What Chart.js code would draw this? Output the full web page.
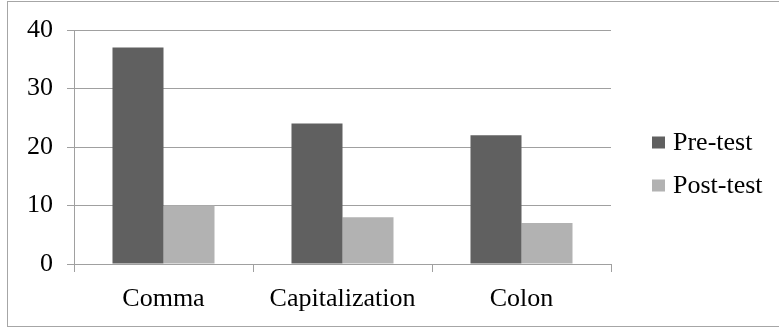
<!DOCTYPE html>
<html>
<head>
<meta charset="utf-8">
<script src="https://cdn.jsdelivr.net/npm/chart.js@4/dist/chart.umd.min.js"></script>
<style>
  html, body { margin: 0; padding: 0; background: #ffffff; }
  #wrap { position: absolute; left: 0; top: 0; width: 779px; height: 328px; }
</style>
</head>
<body>
<div id="wrap"><canvas id="chart" width="779" height="328"></canvas></div>
<script>
// Error counts per punctuation category, before and after instruction
const categories = ['Comma', 'Capitalization', 'Colon'];
const preTest = [37, 24, 22];
const postTest = [10, 8, 7];
const seriesNames = ['Pre-test', 'Post-test'];
const yTicks = [0, 10, 20, 30, 40];

const FONT = "'Liberation Serif', 'Times New Roman', Times, 'DejaVu Serif', serif";
const GRID = '#a0a0a0';
const colors = ['#606060', '#b2b2b2'];

// Frame around the chart and a legend with square swatches on the right
const framePlugin = {
  id: 'frame',
  afterDraw(chart) {
    const ctx = chart.ctx;
    ctx.save();
    ctx.strokeStyle = '#a6a6a6';
    ctx.lineWidth = 1;
    ctx.strokeRect(7.5, 1.5, 800, 325);
    ctx.font = '26px ' + FONT;
    ctx.textBaseline = 'middle';
    ctx.textAlign = 'left';
    chart.data.datasets.forEach((ds, i) => {
      const cy = 142.5 + i * 43;
      ctx.fillStyle = ds.backgroundColor;
      ctx.fillRect(652, cy - 6, 13, 12);
      ctx.fillStyle = '#000000';
      ctx.fillText(ds.label, 673, cy + 1);
    });
    ctx.restore();
  }
};

new Chart(document.getElementById('chart'), {
  type: 'bar',
  data: {
    labels: categories,
    datasets: [
      { label: seriesNames[0], data: preTest, backgroundColor: colors[0] },
      { label: seriesNames[1], data: postTest, backgroundColor: colors[1] }
    ]
  },
  options: {
    responsive: false,
    animation: false,
    events: [],
    layout: { padding: { left: 0, top: 30, right: 168, bottom: 0 } },
    plugins: {
      legend: { display: false },
      tooltip: { enabled: false }
    },
    datasets: {
      bar: { barPercentage: 1.0, categoryPercentage: 0.57 }
    },
    scales: {
      x: {
        offset: true,
        grid: {
          offset: true,
          drawOnChartArea: false,
          drawTicks: true,
          tickLength: 8,
          color: GRID
        },
        border: { color: GRID, width: 1 },
        ticks: {
          color: '#000000',
          font: { family: FONT, size: 26 },
          padding: 12,
          maxRotation: 0
        },
        afterFit(scale) { scale.height = 64; }
      },
      y: {
        min: 0,
        max: 40,
        afterBuildTicks(scale) { scale.ticks = yTicks.map(v => ({ value: v })); },
        grid: {
          color: GRID,
          drawTicks: true,
          tickLength: 7
        },
        border: { color: GRID, width: 1 },
        ticks: {
          color: '#000000',
          font: { family: FONT, size: 26 },
          padding: 14
        },
        afterFit(scale) { scale.width = 74; }
      }
    }
  },
  plugins: [framePlugin]
});
</script>
</body>
</html>
